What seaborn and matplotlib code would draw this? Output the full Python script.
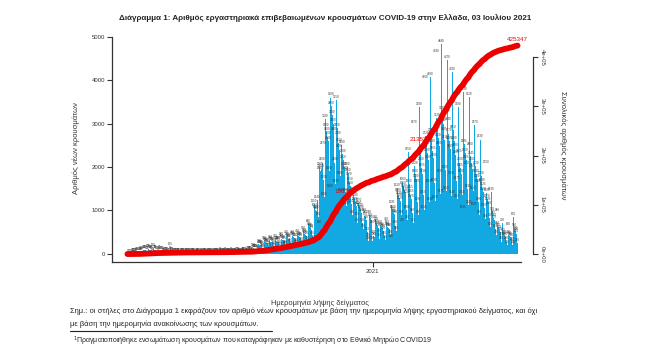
import pandas as pd
import matplotlib
matplotlib.use("Agg")
import matplotlib.pyplot as plt
import seaborn as sns

# daily new cases by sample date, one row per week (Mon..Sun), first row starts Wed 26 Feb 2020
start_date = "2020-02-26"
daily_cases = [
    1, 2, 1, 0, 3,
    4, 7, 12, 15, 20, 12, 10,
    28, 35, 40, 45, 52, 38, 30,
    68, 75, 82, 90, 95, 70, 55,
    105, 98, 92, 88, 80, 60, 45,
    130, 95, 85, 78, 70, 55, 40,
    85, 70, 62, 55, 50, 30, 25,
    45, 40, 35, 30, 35, 20, 15,
    155, 60, 40, 30, 25, 15, 12,
    25, 20, 18, 15, 14, 10, 8,
    20, 15, 12, 12, 10, 8, 6,
    18, 14, 12, 10, 10, 7, 5,
    15, 12, 10, 10, 8, 6, 4,
    14, 12, 10, 9, 8, 5, 4,
    15, 13, 12, 10, 8, 6, 5,
    18, 15, 12, 10, 9, 7, 5,
    25, 20, 18, 15, 14, 10, 8,
    30, 25, 22, 20, 18, 12, 10,
    28, 24, 20, 18, 16, 12, 10,
    30, 26, 24, 22, 20, 15, 12,
    35, 30, 28, 25, 22, 18, 14,
    48, 42, 38, 35, 32, 25, 20,
    70, 62, 58, 55, 50, 38, 30,
    130, 115, 110, 105, 100, 75, 60,
    230, 210, 200, 195, 185, 140, 110,
    290, 260, 250, 240, 230, 170, 130,
    310, 280, 270, 260, 250, 180, 140,
    330, 300, 290, 280, 265, 190, 150,
    380, 340, 320, 310, 295, 210, 165,
    420, 380, 360, 345, 330, 240, 185,
    440, 400, 380, 365, 350, 250, 195,
    450, 410, 390, 375, 360, 260, 200,
    520, 470, 450, 430, 410, 300, 230,
    680, 620, 590, 570, 550, 400, 320,
    1150, 1050, 1000, 980, 1240, 850, 650,
    2000, 1900, 1950, 2100, 2470, 1700, 1300,
    3100, 2900, 2800, 2700, 2600, 1900, 1500,
    3600, 3400, 3200, 3000, 2800, 2100, 1600,
    3550, 2900, 2700, 2550, 2400, 1800, 1400,
    2500, 2300, 2150, 2000, 1900, 1400, 1100,
    2000, 1850, 1770, 1650, 1550, 1150, 900,
    1430, 1350, 1280, 1200, 1100, 850, 700,
    1170, 1100, 1050, 1000, 940, 700, 560,
    940, 880, 850, 780, 500, 350, 300,
    900, 820, 780, 650, 300, 420, 380,
    780, 720, 680, 640, 600, 450, 350,
    670, 620, 590, 560, 530, 400, 320,
    720, 650, 620, 600, 580, 430, 340,
    1130, 1000, 950, 920, 880, 650, 520,
    1520, 1400, 1330, 1280, 1220, 900, 700,
    1660, 1550, 1480, 1420, 1350, 1000, 780,
    2350, 1600, 1455, 1365, 1270, 940, 705,
    2970, 2020, 1840, 1720, 1605, 1190, 890,
    3390, 2305, 2100, 1965, 1830, 1355, 1015,
    4000, 2720, 2480, 2320, 2160, 1600, 1200,
    4080, 2775, 2530, 2365, 2205, 1630, 1225,
    4590, 3120, 2845, 2660, 2480, 1835, 1375,
    4840, 3290, 3000, 2805, 2615, 1935, 1450,
    4470, 3040, 2770, 2595, 2415, 1790, 1340,
    4190, 2850, 2600, 2430, 2265, 1675, 1255,
    3390, 2305, 2100, 1965, 1830, 1355, 1015,
    3730, 2535, 2310, 2165, 2015, 1490, 1120,
    3620, 2460, 2245, 2100, 1955, 1450, 1085,
    2970, 2020, 1840, 1720, 1605, 1190, 890,
    2630, 1790, 1630, 1525, 1420, 1050, 790,
    2050, 1395, 1270, 1190, 1105, 820, 615,
    1430, 970, 885, 830, 770, 570, 430,
    940, 640, 585, 545, 510, 375, 280,
    700, 475, 435, 405, 380, 280, 210,
    620, 430, 400, 380, 360, 270, 200,
    850, 580, 530, 490, 460, 250,
]

milestone_dates = ["2020-12-06", "2021-03-11"]
milestone_texts = ["106264", "213521"]
total_text = "425347"
year_tick_date = "2021-01-01"
year_tick_label = "2021"
left_ticks = [0, 1000, 2000, 3000, 4000, 5000]
right_ticks = [0, 100000, 200000, 300000, 400000]
right_tick_labels = ["0e+00", "1e+05", "2e+05", "3e+05", "4e+05"]

title = ("Διάγραμμα 1: Αριθμός εργαστηριακά επιβεβαιωμένων κρουσμάτων "
         "COVID-19 στην Ελλάδα, 03 Ιουλίου 2021")
note_1 = ("Σημ.: οι στήλες στο Διάγραμμα 1 εκφράζουν τον αριθμό νέων κρουσμάτων "
          "με βάση την ημερομηνία λήψης εργαστηριακού δείγματος, και όχι")
note_2 = "με βάση την ημερομηνία ανακοίνωσης των κρουσμάτων."
footnote = ("$^1$Πραγματοποιήθηκε ενσωμάτωση κρουσμάτων που καταγράφηκαν "
            "με καθυστέρηση στο Εθνικό Μητρώο COVID19")

BLUE = "#12a8e2"
RED = "#ec0000"
INK = "#333333"

df = pd.DataFrame({
    "date": pd.date_range(start_date, periods=len(daily_cases), freq="D"),
    "cases": daily_cases,
})
df["day"] = (df["date"] - df["date"].iloc[0]).dt.days
df["cumulative"] = df["cases"].cumsum()
day_of = lambda d: (pd.Timestamp(d) - df["date"].iloc[0]).days

sns.set_style("ticks")
plt.rcParams["font.family"] = ["Liberation Sans", "DejaVu Sans"]

W, H = 650, 352
fig = plt.figure(figsize=(W / 100, H / 100), dpi=100)
ax = fig.add_axes([112 / W, 1 - 262 / H, 421 / W, 227 / H])

sns.barplot(data=df, x="day", y="cases", native_scale=True, width=1.0,
            color=BLUE, saturation=1, errorbar=None, linewidth=0, ax=ax)
ax.bar_label(ax.containers[0], fmt="%d", fontsize=2.2, padding=0.8,
             color="#3a3a3a")

ax2 = ax.twinx()
sns.lineplot(data=df, x="day", y="cumulative", color=RED, linewidth=4.2,
             errorbar=None, solid_capstyle="round", ax=ax2)

# red value labels along cumulative curve
for d, txt in zip(milestone_dates, milestone_texts):
    row = df[df["day"] == day_of(d)].iloc[0]
    ax2.annotate(txt, (row["day"], row["cumulative"]), xytext=(-5, 0),
                 textcoords="offset points", ha="center", va="center",
                 fontsize=4.5, color=RED, zorder=1)
last = df.iloc[-1]
ax2.annotate(total_text, (last["day"], last["cumulative"]), xytext=(0, 2.5),
             textcoords="offset points", ha="center", va="bottom",
             fontsize=4.5, color=RED)

ax.set_xlim(-19.5, 512.5)
ax.set_ylim(-190, 5040)
ax2.set_ylim(-16200, 444700)

ax.set_xticks([day_of(year_tick_date)])
ax.set_xticklabels([year_tick_label])
ax.set_yticks(left_ticks)
ax.set_yticklabels([str(v) for v in left_ticks])
ax2.set_yticks(right_ticks)
ax2.set_yticklabels(right_tick_labels, rotation=270, va="center")

for a in (ax, ax2):
    a.tick_params(length=3.5, width=0.8, labelsize=4.3, colors=INK, pad=1.5)
    for s in a.spines.values():
        s.set_color(INK)
        s.set_linewidth(0.9)

ax.spines["top"].set_visible(False)
ax.spines["right"].set_visible(False)
ax.spines["left"].set_bounds(-190, 5000)
ax.spines["bottom"].set_bounds(-19.5, 497)
for s in ("top", "left", "bottom"):
    ax2.spines[s].set_visible(False)
ax2.spines["right"].set_bounds(0, 400000)

ax.set_xlabel("Ημερομηνία λήψης δείγματος", fontsize=5.4, color=INK)
ax.xaxis.set_label_coords(0.494, -0.167)
ax.set_ylabel("Αριθμός νέων κρουσμάτων", fontsize=5.5, color=INK)
ax.yaxis.set_label_coords(-0.076, 0.5)
ax2.set_ylabel("Συνολικός αριθμός κρουσμάτων", fontsize=5.5, color=INK,
               rotation=270, va="center")
ax2.yaxis.set_label_coords(1.071, 0.515)

fig.text(325 / W, 1 - 18 / H, title, ha="center", va="center",
         fontsize=5.75, fontweight="bold", color="#222222")
fig.text(70 / W, 1 - 311 / H, note_1, ha="left", va="center",
         fontsize=5.4, color="#222222")
fig.text(70 / W, 1 - 324 / H, note_2, ha="left", va="center",
         fontsize=5.4, color="#222222")
fig.add_artist(plt.Line2D([70 / W, 272 / W], [1 - 331 / H, 1 - 331 / H],
                          color="#222222", linewidth=0.8))
fig.text(73 / W, 1 - 341 / H, footnote, ha="left", va="center",
         fontsize=5.05, color="#222222")

fig.savefig("out.png", dpi=100)
